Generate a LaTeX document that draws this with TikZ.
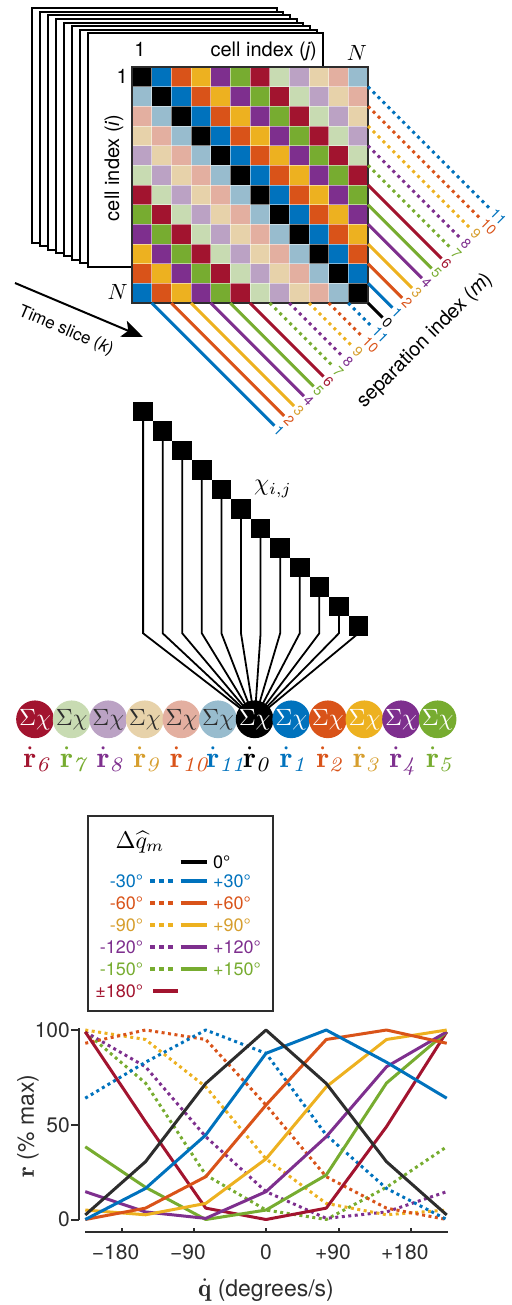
\documentclass[tikz,border=0pt]{standalone}
\usepackage{fontspec}
\setsansfont{TeX Gyre Heros}
\usetikzlibrary{arrows.meta,backgrounds}

% base palette
\definecolor{cB}{RGB}{0,114,189}
\definecolor{cO}{RGB}{217,83,25}
\definecolor{cY}{RGB}{237,177,32}
\definecolor{cP}{RGB}{126,47,142}
\definecolor{cG}{RGB}{119,172,48}
\definecolor{cR}{RGB}{162,20,47}
\definecolor{lG}{RGB}{200,219,178}
\definecolor{lP}{RGB}{187,162,196}
\definecolor{lY}{RGB}{231,210,170}
\definecolor{lO}{RGB}{227,175,160}
\definecolor{lB}{RGB}{152,188,206}
\definecolor{tY}{RGB}{214,158,45}
\definecolor{ink}{RGB}{45,45,45}

% cell fills by separation m
\colorlet{mc0}{black}\colorlet{mc1}{cB}\colorlet{mc2}{cO}\colorlet{mc3}{cY}
\colorlet{mc4}{cP}\colorlet{mc5}{cG}\colorlet{mc6}{cR}\colorlet{mc7}{lG}
\colorlet{mc8}{lP}\colorlet{mc9}{lY}\colorlet{mc10}{lO}\colorlet{mc11}{lB}
% line colours by separation m
\colorlet{lc0}{black}\colorlet{lc1}{cB}\colorlet{lc2}{cO}\colorlet{lc3}{cY}
\colorlet{lc4}{cP}\colorlet{lc5}{cG}\colorlet{lc6}{cR}\colorlet{lc7}{cG}
\colorlet{lc8}{cP}\colorlet{lc9}{cY}\colorlet{lc10}{cO}\colorlet{lc11}{cB}
% label colours by separation m
\colorlet{tc0}{black}\colorlet{tc1}{cB}\colorlet{tc2}{cO}\colorlet{tc3}{tY}
\colorlet{tc4}{cP}\colorlet{tc5}{cG}\colorlet{tc6}{cR}\colorlet{tc7}{cG}
\colorlet{tc8}{cP}\colorlet{tc9}{tY}\colorlet{tc10}{cO}\colorlet{tc11}{cB}
% text inside the summation discs
\colorlet{sc0}{white}\colorlet{sc1}{white}\colorlet{sc2}{white}\colorlet{sc3}{white}
\colorlet{sc4}{white}\colorlet{sc5}{white}\colorlet{sc6}{white}\colorlet{sc7}{ink}
\colorlet{sc8}{ink}\colorlet{sc9}{ink}\colorlet{sc10}{ink}\colorlet{sc11}{ink}

\newcommand\fsz[1]{\fontsize{#1}{#1}\selectfont}
% math set at 10pt and enlarged
\newcommand\bigmath[2]{\scalebox{#1}{\normalsize$#2$}}

\tikzset{
  page/.style={draw=black, fill=white, line width=2pt},
  matframe/.style={draw=ink, line width=1.5pt},
  cellsep/.style={draw=white, line width=0.6pt, opacity=0.5},
  solidsep/.style={line width=3pt},
  dotsep/.style={line width=3pt, dash pattern=on 3pt off 4pt},
  ms0/.style={solidsep, draw=lc0}, ms1/.style={solidsep, draw=lc1},
  ms2/.style={solidsep, draw=lc2}, ms3/.style={solidsep, draw=lc3},
  ms4/.style={solidsep, draw=lc4}, ms5/.style={solidsep, draw=lc5},
  ms6/.style={solidsep, draw=lc6}, ms7/.style={dotsep, draw=lc7},
  ms8/.style={dotsep, draw=lc8}, ms9/.style={dotsep, draw=lc9},
  ms10/.style={dotsep, draw=lc10}, ms11/.style={dotsep, draw=lc11},
  seplbl/.style={anchor=west, rotate=-45, inner sep=1.5pt, font=\sffamily\fsz{14}},
  axlbl/.style={font=\sffamily\fsz{20}, inner sep=0pt},
  sqbox/.style={fill=black, minimum size=19.6pt, inner sep=0pt},
  wire/.style={draw=black, line width=1.8pt},
  sumnode/.style={circle, minimum size=33.4pt, inner sep=0pt},
  rlbl/.style={anchor=base west, inner sep=0pt},
  legtxt/.style={font=\sffamily\fsz{18}, inner sep=0pt},
  legsolid/.style={line width=4pt},
  legdot/.style={line width=4pt, dash pattern=on 5pt off 4pt},
  plotaxis/.style={draw=ink, line width=2pt},
  ticklbl/.style={font=\sffamily\fsz{21}, text=ink, inner sep=0pt},
  cvsolid/.style={line width=3pt, line join=round},
  cvdot/.style={line width=3pt, line join=round, dash pattern=on 3pt off 3.5pt},
}

% one response curve sampled at -225,-150,...,225 degrees/s
\newcommand\datacurve[3]{%
  \draw[#1] (-225,#2) \foreach \v [count=\kk] in {#3} { -- ({-225+75*\kk},\v) };}

\begin{document}
\begin{tikzpicture}[x=1pt,y=-1pt]
\useasboundingbox (0,0) rectangle (511,1305);

% ---------- stack of time slices ----------
\foreach \kk in {0,...,7}{
  \pgfmathsetmacro\pgL{31.7+8.09*\kk}
  \pgfmathsetmacro\pgT{8.3+3.57*\kk}
  \pgfmathsetmacro\pgR{276.7+6.66*\kk}
  \pgfmathsetmacro\pgB{242.7+3.43*\kk}
  \draw[page] (\pgL,\pgT) rectangle (\pgR,\pgB);
}
\node[axlbl, anchor=base] (colone) at (140,57) {1};
\node[axlbl, anchor=base east] (coltitle) at (317,57) {cell index ({\itshape j})};
\node[anchor=base, inner sep=0pt] (colN) at (357,61) {\bigmath{2.2}{N}};
\node[axlbl, anchor=base east] (rowone) at (128,84) {1};
\node[axlbl, rotate=90] (rowtitle) at (114,168) {cell index ({\itshape i})};
\node[anchor=base east, inner sep=0pt] (rowN) at (128,300) {\bigmath{2.2}{N}};

% ---------- correlation matrix ----------
\def\cs{19.667}
\foreach \ri in {1,...,12}{
  \foreach \cj in {1,...,12}{
    \pgfmathtruncatemacro\mi{mod(\cj-\ri+12,12)}
    \fill[fill=mc\mi] ({132+(\cj-1)*\cs},{67+(\ri-1)*\cs}) rectangle ++(\cs,\cs);
  }
}
\foreach \kk in {1,...,11}{
  \draw[cellsep] ({132+\kk*\cs},67) -- ({132+\kk*\cs},303);
  \draw[cellsep] (132,{67+\kk*\cs}) -- (368,{67+\kk*\cs});
}
\draw[matframe] (132,67) rectangle (368,303);

% ---------- diagonals unrolled by separation index ----------
\foreach \mm in {1,...,11}{
  \pgfmathsetmacro\ys{67+(12-\mm)*\cs}
  \pgfmathsetmacro\dd{(700-368-\ys)/2}
  \draw[ms\mm] (368,\ys) -- ++(\dd,\dd) node[seplbl, text=tc\mm] (sepR\mm) {\mm};
}
\foreach \mm in {1,...,11}{
  \pgfmathsetmacro\xs{132+\mm*\cs}
  \pgfmathsetmacro\dd{(700-303-\xs)/2}
  \draw[ms\mm] (\xs,303) -- ++(\dd,\dd) node[seplbl, text=tc\mm] (sepB\mm) {\mm};
}
\draw[ms0] (368,303) -- ++(14.5,14.5) node[seplbl, text=tc0] (sep0) {0};
\node[font=\sffamily\fsz{20}, rotate=45] (sepaxis) at (425,341) {separation index ({\itshape m})};

% ---------- time axis ----------
\coordinate (tsA) at (15,283);
\coordinate (tsB) at (143,337);
\draw[line width=2pt, -{Stealth[length=21pt,width=17pt,inset=5pt]}] (tsA) -- (tsB);
\node[font=\sffamily\fsz{17}, rotate=-22.9] (tslabel) at (66,331) {Time slice ({\itshape k})};

% ---------- summation over each diagonal ----------
\foreach \kk in {0,...,11}{
  \node[sqbox] (sq\kk) at ({143.1+19.58*\kk},{411.5+19.5*\kk}) {};
}
\node (chi) at (273,489) {\bigmath{2.4}{\chi_{i,j}}};
\foreach \nn in {0,...,11}{
  \pgfmathtruncatemacro\mi{mod(\nn+6,12)}
  \node[sumnode, fill=mc\mi, text=sc\mi] (sum\mi) at ({35+36.6*\nn},719.3) {\bigmath{2.35}{\Sigma\chi}};
  \node[rlbl, text=tc\mi] (rate\mi) at ({23.5+36.6*\nn},767) {\bigmath{2.95}{\dot{\mathbf{r}}_{\mathit{\mi}}}};
}
\coordinate (bend) at (0,633.3);
\begin{scope}[on background layer]
  \foreach \kk in {0,...,11}{
    \draw[wire] (sq\kk.center) -- (sq\kk.center |- bend) -- (sum0.center);
  }
\end{scope}

% ---------- legend ----------
\draw[draw=ink, line width=2pt] (88,816) rectangle (273,1011);
\node (legtitle) at (140,842) {\bigmath{2.4}{\Delta\widehat{q}_m}};
\draw[legsolid, draw=black] (180.7,862) -- (207.3,862);
\node[legtxt, anchor=west] (legzero) at (213,862) {0°};
\foreach \ang/\mm/\yy in {30/1/881, 60/2/903, 90/3/925, 120/4/947, 150/5/969}{
  \node[legtxt, anchor=east, text=tc\mm] (legneg\mm) at (143.3,\yy) {-\ang°};
  \draw[legdot, draw=lc\mm] (150,\yy) -- (174,\yy);
  \draw[legsolid, draw=lc\mm] (180.7,\yy) -- (207.3,\yy);
  \node[legtxt, anchor=west, text=tc\mm] (legpos\mm) at (213,\yy) {+\ang°};
}
\node[legtxt, anchor=east, text=cR] (legflip) at (143.3,991) {±180°};
\draw[legsolid, draw=cR] (153.3,991) -- (178.3,991);

% ---------- tuning curves ----------
\draw[plotaxis] (79,1028) -- (79,1220);
\foreach \val/\ypos in {100/1030, 50/1124.75, 0/1219.5}{
  \draw[plotaxis] (71,\ypos) -- (79,\ypos);
  \node[ticklbl, anchor=east] (ytick\val) at (70,\ypos) {\val};
}
\draw[plotaxis] (85,1232.3) -- (448.3,1232.3);
\foreach \xpos/\lab/\nm in {121.7/\llap{−}180/a, 194/\llap{−}90/b, 266/0/c, 339/\llap{+}90/d, 411/\llap{+}180/e}{
  \draw[plotaxis] (\xpos,1232.3) -- (\xpos,1228);
  \node[ticklbl, anchor=base] (xtick\nm) at (\xpos,1259) {\lab};
}
\node[font=\sffamily\fsz{23}, text=ink, rotate=90] (ylab) at (28,1126) {\bigmath{2.5}{\mathbf{r}}~(\% max)};
\node[font=\sffamily\fsz{23}, text=ink] (xlab) at (266,1290) {\bigmath{2.5}{\dot{\mathbf{q}}}~(degrees/s)};

\begin{scope}[shift={(266,1219.5)}, x=0.8033pt, y=1.895pt]
  \datacurve{cvdot, draw=cG}{99}{72, 23.5, 5, 0, 17, 38.4}
  \datacurve{cvdot, draw=cP}{99}{80.6, 43.7, 14.7, 0.6, 4, 14.7}
  \datacurve{cvdot, draw=cY}{100}{95, 70, 32, 8.5, 2.5, 5}
  \datacurve{cvdot, draw=cO}{93}{100, 95, 60.4, 22.6, 6, 0}
  \datacurve{cvdot, draw=cB}{64}{83, 100, 87.7, 44.6, 16.4, 0}
  \datacurve{cvsolid, draw=cR}{99}{51.6, 6, 0, 6, 49, 99}
  \datacurve{cvsolid, draw=cG}{38.4}{17, 0, 5, 23.5, 72, 99}
  \datacurve{cvsolid, draw=cP}{14.7}{4, 0.6, 14.7, 43.7, 80.6, 99}
  \datacurve{cvsolid, draw=cY}{5}{2.5, 8.5, 32, 70, 95, 100}
  \datacurve{cvsolid, draw=cO}{0}{6, 22.6, 60.4, 95, 100, 93}
  \datacurve{cvsolid, draw=cB}{0}{16.4, 44.6, 87.7, 100, 83, 64}
  \datacurve{cvsolid, draw=ink}{2.4}{30.5, 71.8, 100, 71.8, 30.5, 2.4}
\end{scope}
\end{tikzpicture}
\end{document}
